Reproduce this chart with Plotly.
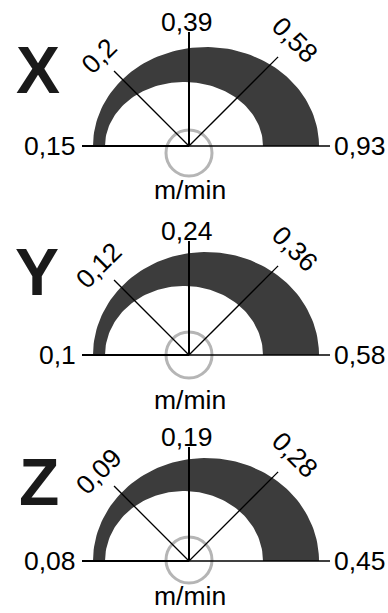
import numpy as np
import plotly.graph_objects as go

# ---- data ----
AXIS_NAMES = ["X", "Y", "Z"]
UNIT = "m/min"
X_TICKS = [0.15, 0.2, 0.39, 0.58, 0.93]
Y_TICKS = [0.1, 0.12, 0.24, 0.36, 0.58]
Z_TICKS = [0.08, 0.09, 0.19, 0.28, 0.45]
TICKS = [X_TICKS, Y_TICKS, Z_TICKS]
SPOKE_ANGLES = [180, 135, 90, 45, 0]   # degrees, one per tick label


def fmt(v):
    return f"{v:g}".replace(".", ",")


# ---- layout / style (pixel space of the page) ----
W, H = 388, 613
CENTERS = [(189, 146), (189, 355), (189, 561)]
OUTER_RY = [99, 103, 103]
INNER_RY = [64, 69, 70]
OUTER_RX, OUTER_DX = 113, 17
INNER_RX, INNER_DX = 79, -5
CIRCLE_DY = [7, 0, -1]
UNIT_DY = [44, 45, 35]
SPOKE_LEN = [107, 106, 114, 126, 141]
SPOKE_W = [2, 1.3, 2, 1.3, 1.3]
LETTER_POS = [(38, 70), (37, 272), (39, 482)]
BAND_COLOR = "#3c3c3c"
FONT = "Liberation Sans, Arial, sans-serif"
LABEL_SIZE = 26.5

fig = go.Figure()
annotations = []
shapes = []

for g, name in enumerate(AXIS_NAMES):
    cx, cy = CENTERS[g]
    # band (crescent-like half ring)
    t_out = np.radians(np.linspace(180, 0, 90))
    t_in = np.radians(np.linspace(0, 180, 90))
    bx = np.concatenate([cx + OUTER_DX + OUTER_RX * np.cos(t_out),
                         cx + INNER_DX + INNER_RX * np.cos(t_in)])
    by = np.concatenate([cy - OUTER_RY[g] * np.sin(t_out),
                         cy - INNER_RY[g] * np.sin(t_in)])
    fig.add_trace(go.Scatter(x=bx, y=by, mode="lines", fill="toself",
                             fillcolor=BAND_COLOR, line=dict(width=0),
                             hoverinfo="skip", showlegend=False))

    # centre circle
    r = 23
    ccy = cy + CIRCLE_DY[g]
    shapes.append(dict(type="circle", xref="x", yref="y",
                       x0=cx - r, x1=cx + r, y0=ccy - r, y1=ccy + r,
                       line=dict(color="#b5b5b5", width=3), layer="below"))

    # spokes + labels
    for k, (ang, val) in enumerate(zip(SPOKE_ANGLES, TICKS[g])):
        a = np.radians(ang)
        ex = cx + SPOKE_LEN[k] * np.cos(a)
        ey = cy - SPOKE_LEN[k] * np.sin(a)
        fig.add_trace(go.Scatter(x=[cx, ex], y=[cy, ey], mode="lines",
                                 line=dict(color="black", width=SPOKE_W[k]),
                                 hoverinfo="skip", showlegend=False))
        txt = fmt(val)
        font = dict(family=FONT, size=LABEL_SIZE, color="black")
        if ang == 180:
            annotations.append(dict(x=ex - 4, y=ey, text=txt, showarrow=False,
                                    xanchor="right", yanchor="middle", font=font))
        elif ang == 0:
            annotations.append(dict(x=ex + 2, y=ey, text=txt, showarrow=False,
                                    xanchor="left", yanchor="middle", font=font))
        elif ang == 90:
            annotations.append(dict(x=cx - 2, y=cy - 124, text=txt, showarrow=False,
                                    xanchor="center", yanchor="middle", font=font))
        else:
            lr = SPOKE_LEN[k] + (21 if ang > 90 else 24)
            lx = cx + lr * np.cos(a)
            ly = cy - lr * np.sin(a)
            annotations.append(dict(x=lx, y=ly, text=txt, showarrow=False,
                                    textangle=-45 if ang > 90 else 45,
                                    xanchor="center", yanchor="middle", font=font))

    # unit
    annotations.append(dict(x=cx + 1, y=cy + UNIT_DY[g], text=UNIT, showarrow=False,
                            xanchor="center", yanchor="middle", borderpad=0,
                            font=dict(family=FONT, size=LABEL_SIZE, color="black")))
    # axis letter
    lx, ly = LETTER_POS[g]
    annotations.append(dict(x=lx, y=ly, text=f"<b>{name}</b>", showarrow=False,
                            xanchor="center", yanchor="middle",
                            font=dict(family=FONT, size=66, color="#1a1a1a")))

fig.update_layout(
    width=W, height=H, autosize=False,
    margin=dict(l=0, r=0, t=0, b=0),
    paper_bgcolor="white", plot_bgcolor="white",
    xaxis=dict(range=[0, W], visible=False, fixedrange=True),
    yaxis=dict(range=[H, 0], visible=False, fixedrange=True),
    annotations=annotations, shapes=shapes, showlegend=False,
)

fig.write_html(
    "out.html",
    config={"displayModeBar": False, "staticPlot": True},
    post_script="document.body.style.margin='0';document.body.style.overflow='hidden';",
)
